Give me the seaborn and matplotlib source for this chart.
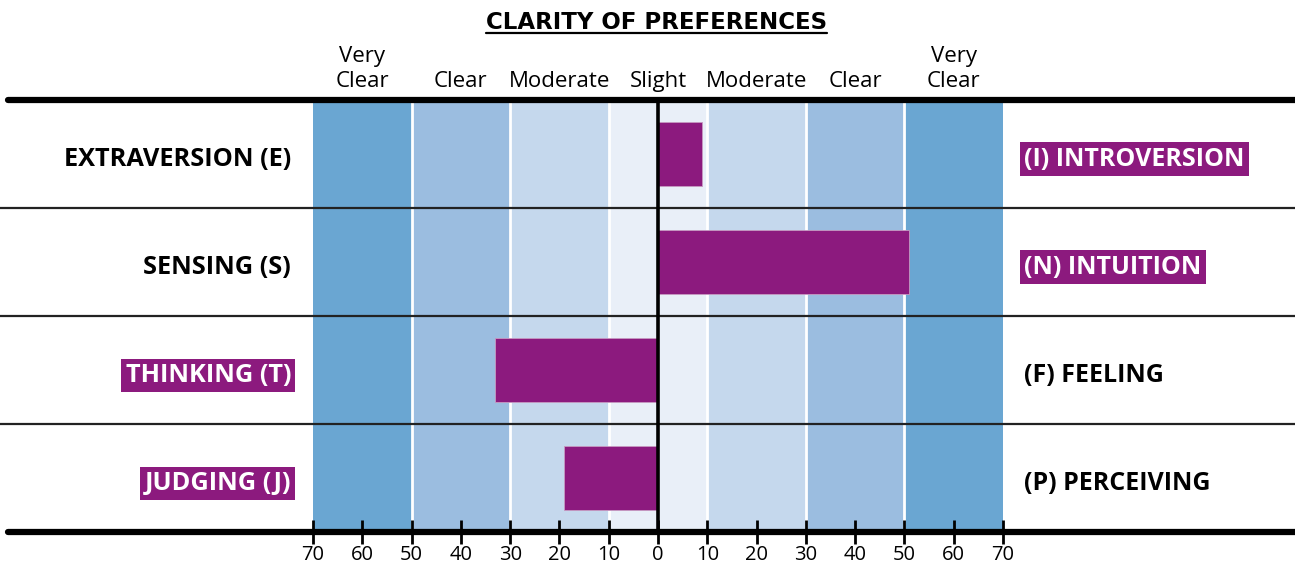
import pandas as pd
import seaborn as sns
import matplotlib.pyplot as plt
from matplotlib.lines import Line2D

# preference pairs and scores (positive = right-hand preference)
left_labels = ["EXTRAVERSION (E)", "SENSING (S)", "THINKING (T)", "JUDGING (J)"]
right_labels = ["(I) INTROVERSION", "(N) INTUITION", "(F) FEELING", "(P) PERCEIVING"]
pairs = ["E-I", "S-N", "T-F", "J-P"]
scores = [9, 51, -33, -19]

band_edges = [0, 10, 30, 50, 70]
band_names = ["Slight", "Moderate", "Clear", "Very\nClear"]
band_colors = ["#e9eff8", "#c5d8ed", "#9bbde0", "#6aa6d2"]
ticks = list(range(-70, 71, 10))

purple = "#8c1a7e"

sns.set_theme(style="white")
plt.rcParams["font.family"] = ["Open Sans", "DejaVu Sans"]
plt.rcParams["text.color"] = "black"
plt.rcParams["xtick.color"] = "black"

df = pd.DataFrame({"pair": pairs, "score": scores})

W, H = 1295, 564
fig = plt.figure(figsize=(W / 100, H / 100), dpi=100)
ax = fig.add_axes([0, 1 - 532 / H, 1, 432 / H])

# map -70..70 onto pixels 313..1003
scale = (1003 - 313) / 140
ax.set_xlim(-70 - 313 / scale, 70 + (W - 1003) / scale)

# background bands
for i, c in enumerate(band_colors):
    for sgn in (-1, 1):
        ax.axvspan(sgn * band_edges[i], sgn * band_edges[i + 1], color=c, lw=0, zorder=0)
for e in band_edges[1:-1]:
    for sgn in (-1, 1):
        ax.axvline(sgn * e, color="white", lw=2, zorder=0.5)

sns.barplot(data=df, x="score", y="pair", orient="h", color=purple,
            saturation=1, width=0.6, ax=ax, zorder=2, edgecolor="#c79ac2", linewidth=0.6)
ax.set_ylim(3.5, -0.5)

# center line and row lines
ax.axvline(0, color="black", lw=2.6, zorder=3)
for y in (0.5, 1.5, 2.5):
    ax.axhline(y, color="#222222", lw=1.6, zorder=1)
for y in (-0.5, 3.5):
    ax.axhline(y, xmin=8 / W, color="black", lw=4.5, zorder=4, clip_on=False)

for s in ax.spines.values():
    s.set_visible(False)
ax.set_xlabel("")
ax.set_ylabel("")
ax.set_yticks([])
ax.set_xticks(ticks)
ax.set_xticklabels([str(abs(t)) for t in ticks], fontsize=14.5)
ax.tick_params(axis="x", direction="inout", length=17, width=2, colors="black",
               pad=0.5, bottom=True)

# row labels
lx = -70 - (313 - 291) / scale
rx = 70 + (1024 - 1003) / scale
for i, s in enumerate(scores):
    left_hl = s < 0
    box = dict(facecolor=purple, edgecolor="none", pad=3.2)
    ax.text(lx, i + 0.11, left_labels[i], ha="right", va="baseline", fontsize=18.3,
            fontweight="bold", color="white" if left_hl else "black",
            bbox=box if left_hl else None)
    ax.text(rx, i + 0.11, right_labels[i], ha="left", va="baseline", fontsize=18,
            fontweight="bold", color="white" if not left_hl else "black",
            bbox=box if not left_hl else None)

# clarity headers
xt = ax.get_xaxis_transform()
for i, name in enumerate(band_names):
    mid = (band_edges[i] + band_edges[i + 1]) / 2
    xs = [0] if i == 0 else [-mid, mid]
    for x in xs:
        ax.text(x, (532 - 87) / 432, name, transform=xt, ha="center", va="baseline",
                fontsize=16, linespacing=1.25, color="black")

title = fig.text(0.507, 1 - 29 / H, "CLARITY OF PREFERENCES", ha="center",
                 va="baseline", fontsize=16.5, fontweight="bold", family="DejaVu Sans",
                 color="black")
fig.canvas.draw()
bb = title.get_window_extent()
fig.add_artist(Line2D([bb.x0 / W, bb.x1 / W], [1 - 33 / H] * 2, color="black", lw=1.6))

fig.savefig("out.png", dpi=100)
